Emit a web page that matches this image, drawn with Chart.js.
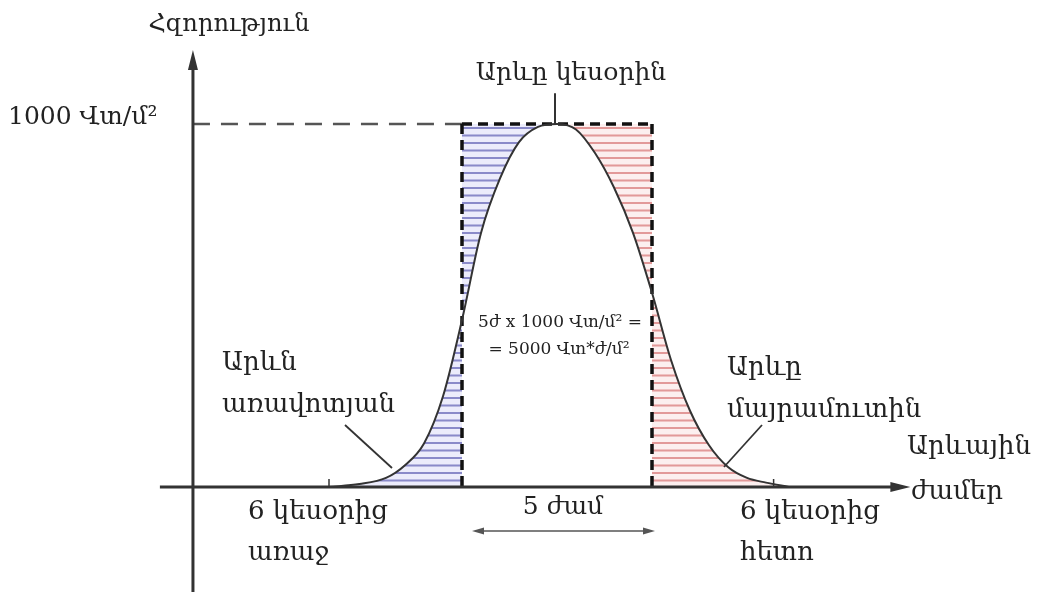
<!DOCTYPE html>
<html>
<head>
<meta charset="utf-8">
<script src="https://cdn.jsdelivr.net/npm/chart.js@4.4.1/dist/chart.umd.min.js"></script>
<style>
  html, body { margin: 0; padding: 0; background: #fff; }
  canvas { display: block; }
</style>
</head>
<body>
<canvas id="c" width="1038" height="592"></canvas>
<script>
/* Solar irradiance over the day vs. the 5 peak-sun-hours rectangle. */
const hours = [6.0, 6.8, 7.5, 8.0, 8.5, 9.0, 9.5, 10.0, 10.5, 11.0, 11.5, 12.0,
  12.5, 13.0, 13.5, 14.0, 14.5, 15.0, 15.5, 16.0, 16.5, 17.0, 17.5, 18.1];
const power = [0, 8, 25, 60, 120, 250, 460, 700, 850, 950, 992, 1000,
  985, 920, 825, 700, 535, 350, 210, 115, 55, 25, 12, 0];
const peakHour = 12;
const peakLevel = 1000;          // Վտ/մ²
const band = [9.5, 14.5];        // 5 ժամ
const tickHours = [6, 17.7];

const FONT = '"DejaVu Serif", "DejaVu Sans", serif';
const INK = "#222";

const texts = [
  { t: "Հզորություն", x: 229, y: 25, size: 24, align: "center" },
  { t: "1000 Վտ/մ²", x: 8, y: 117, size: 25, align: "left" },
  { t: "Արևը կեսօրին", x: 571, y: 73, size: 25, align: "center" },
  { t: "Արևն", x: 222, y: 363, size: 26, align: "left" },
  { t: "առավոտյան", x: 222, y: 405, size: 26, align: "left" },
  { t: "Արևը", x: 727, y: 368, size: 26, align: "left" },
  { t: "մայրամուտին", x: 727, y: 410, size: 26, align: "left" },
  { t: "Արևային", x: 907, y: 447, size: 26, align: "left" },
  { t: "ժամեր", x: 911, y: 492, size: 26, align: "left" },
  { t: "6 կեսօրից", x: 248, y: 512, size: 26, align: "left" },
  { t: "առաջ", x: 248, y: 553, size: 26, align: "left" },
  { t: "6 կեսօրից", x: 740, y: 512, size: 26, align: "left" },
  { t: "հետո", x: 740, y: 553, size: 26, align: "left" },
  { t: "5 ժամ", x: 563, y: 507, size: 25, align: "center" },
  { t: "5ժ x 1000 Վտ/մ² =", x: 560, y: 323, size: 17, align: "center" },
  { t: "= 5000 Վտ*ժ/մ²", x: 559, y: 350, size: 17, align: "center" },
];

function tracePart(ctx, pts, from, to) {
  ctx.moveTo(pts[from].x, pts[from].y);
  for (let i = from + 1; i <= to; i++) {
    const p = pts[i - 1], q = pts[i];
    ctx.bezierCurveTo(p.cp2x, p.cp2y, q.cp1x, q.cp1y, q.x, q.y);
  }
}

function hatch(ctx, area, top, bottom, fill, line) {
  ctx.fillStyle = fill;
  ctx.fillRect(area.left, top, area.width, bottom - top);
  ctx.strokeStyle = line; ctx.lineWidth = 2;
  ctx.beginPath();
  for (let y = top + 4; y < bottom; y += 7.5) { ctx.moveTo(area.left, y); ctx.lineTo(area.right, y); }
  ctx.stroke();
}

function arrowHead(ctx, x, y, dx, dy, len, half) {
  const nx = -dy, ny = dx;
  ctx.beginPath();
  ctx.moveTo(x, y);
  ctx.lineTo(x - dx * len + nx * half, y - dy * len + ny * half);
  ctx.lineTo(x - dx * len - nx * half, y - dy * len - ny * half);
  ctx.closePath(); ctx.fill();
}

const drawing = {
  id: "drawing",
  beforeDatasetsDraw(chart) {
    const { ctx, chartArea } = chart;
    const X = (v) => chart.scales.x.getPixelForValue(v), Y = (v) => chart.scales.y.getPixelForValue(v);
    const pts = chart.getDatasetMeta(0).data;
    const pk = hours.indexOf(peakHour), last = pts.length - 1;
    const y0 = Y(0), y1 = Y(peakLevel);

    // left lobe (blue) and right lobe (red)
    ctx.save();
    ctx.beginPath(); tracePart(ctx, pts, 0, pk);
    ctx.lineTo(X(band[0]), y1); ctx.lineTo(X(band[0]), y0); ctx.closePath();
    ctx.clip("evenodd");
    hatch(ctx, chartArea, y1, y0, "rgba(170,170,235,0.22)", "rgba(95,95,180,0.7)");
    ctx.restore();
    ctx.save();
    ctx.beginPath(); tracePart(ctx, pts, pk, last);
    ctx.lineTo(X(band[1]), y0); ctx.lineTo(X(band[1]), y1); ctx.closePath();
    ctx.clip("evenodd");
    hatch(ctx, chartArea, y1, y0, "rgba(240,180,180,0.22)", "rgba(215,115,115,0.7)");
    ctx.restore();

    ctx.save();
    ctx.lineCap = "butt";
    // dashed 1000 level
    const yAxisX = X(2.42);
    ctx.strokeStyle = "#555"; ctx.lineWidth = 2.5; ctx.setLineDash([17, 11]);
    ctx.beginPath(); ctx.moveTo(yAxisX, y1); ctx.lineTo(X(band[0]), y1); ctx.stroke();
    ctx.strokeStyle = "#111"; ctx.lineWidth = 3.5; ctx.setLineDash([10, 6]);
    ctx.beginPath(); ctx.moveTo(X(band[0]), y1); ctx.lineTo(X(band[1]), y1); ctx.stroke();
    band.forEach((b) => { ctx.beginPath(); ctx.moveTo(X(b), y1); ctx.lineTo(X(b), y0); ctx.stroke(); });
    ctx.setLineDash([]);

    // axes
    ctx.strokeStyle = "#333"; ctx.fillStyle = "#333"; ctx.lineWidth = 3;
    const yTop = Y(1204), xEnd = X(21.3);
    ctx.beginPath(); ctx.moveTo(yAxisX, chartArea.bottom); ctx.lineTo(yAxisX, yTop + 10); ctx.stroke();
    arrowHead(ctx, yAxisX, yTop, 0, -1, 20, 5);
    ctx.beginPath(); ctx.moveTo(X(1.55), y0); ctx.lineTo(xEnd - 10, y0); ctx.stroke();
    arrowHead(ctx, xEnd, y0, 1, 0, 20, 5);
    ctx.lineWidth = 1.5;
    tickHours.forEach((h) => { ctx.beginPath(); ctx.moveTo(X(h), y0); ctx.lineTo(X(h), y0 - 8); ctx.stroke(); });
    ctx.restore();
  },
  afterDatasetsDraw(chart) {
    const { ctx } = chart;
    const X = (v) => chart.scales.x.getPixelForValue(v), Y = (v) => chart.scales.y.getPixelForValue(v);
    ctx.save();
    ctx.strokeStyle = "#333"; ctx.fillStyle = "#333"; ctx.lineWidth = 2;
    // pointers
    ctx.beginPath(); ctx.moveTo(X(peakHour) - 2, Y(1085)); ctx.lineTo(X(peakHour) - 2, Y(1000)); ctx.stroke();
    ctx.lineWidth = 1.8;
    ctx.beginPath(); ctx.moveTo(345, 425); ctx.lineTo(392, 468); ctx.stroke();
    ctx.beginPath(); ctx.moveTo(762, 425); ctx.lineTo(724, 467); ctx.stroke();
    // 5 h double arrow
    ctx.strokeStyle = "#555"; ctx.fillStyle = "#555"; ctx.lineWidth = 1.5;
    const ay = 531, ax0 = X(band[0]) + 10, ax1 = X(band[1]) + 3;
    ctx.beginPath(); ctx.moveTo(ax0 + 6, ay); ctx.lineTo(ax1 - 6, ay); ctx.stroke();
    arrowHead(ctx, ax0, ay, -1, 0, 12, 3.5);
    arrowHead(ctx, ax1, ay, 1, 0, 12, 3.5);
    // formula box
    ctx.fillStyle = "#fff";
    ctx.fillRect(467, 305, 181, 64);
    ctx.fillStyle = INK; ctx.textBaseline = "middle";
    texts.forEach((d) => { ctx.font = `${d.size}px ${FONT}`; ctx.textAlign = d.align; ctx.fillText(d.t, d.x, d.y); });
    ctx.restore();
  },
};

new Chart(document.getElementById("c"), {
  type: "line",
  data: { datasets: [{ data: hours.map((h, i) => ({ x: h, y: power[i] })),
    borderColor: "#333", borderWidth: 2, pointRadius: 0, fill: false, cubicInterpolationMode: "monotone" }] },
  options: {
    responsive: false, animation: false, layout: { padding: 0 },
    plugins: { legend: { display: false }, tooltip: { enabled: false } },
    scales: {
      x: { type: "linear", min: 12 - 557 / 38, max: 12 + 481 / 38, display: false },
      y: { type: "linear", min: -105 / 0.363, max: 487 / 0.363, display: false },
    },
  },
  plugins: [drawing],
});
</script>
</body>
</html>
